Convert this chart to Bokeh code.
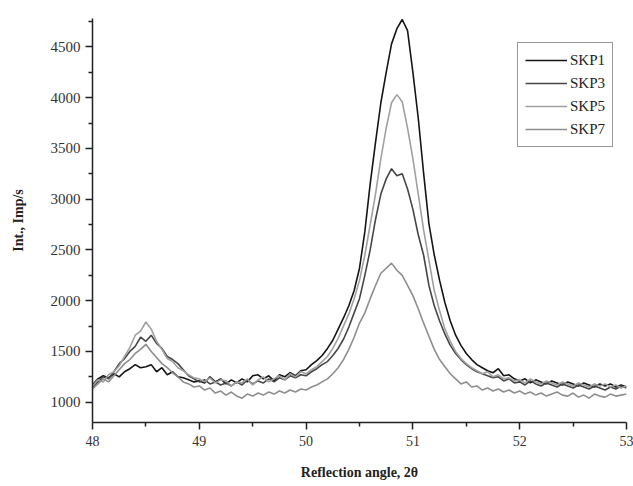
from bokeh.plotting import figure
from bokeh.models import FixedTicker, Legend, LegendItem
from bokeh.embed import file_html
from bokeh.resources import INLINE

angle = [round(48 + 0.05 * i, 2) for i in range(101)]

skp1 = [1170, 1230, 1260, 1240, 1280, 1250, 1300, 1330, 1370, 1340,
        1350, 1370, 1300, 1340, 1270, 1300, 1250, 1240, 1220, 1200,
        1210, 1190, 1250, 1200, 1230, 1180, 1220, 1190, 1230, 1200,
        1260, 1270, 1230, 1260, 1210, 1270, 1250, 1290, 1260, 1310,
        1320, 1370, 1410, 1460, 1530, 1610, 1720, 1830, 1950, 2100,
        2320, 2680, 3150, 3560, 3950, 4250, 4530, 4680, 4770, 4660,
        4250, 3800, 3260, 2760, 2450, 2200, 1980, 1800, 1660, 1560,
        1480, 1420, 1370, 1340, 1310, 1290, 1330, 1260, 1270, 1230,
        1210, 1230, 1190, 1220, 1200, 1180, 1210, 1190, 1170, 1200,
        1180, 1160, 1190, 1170, 1150, 1180, 1160, 1180, 1150, 1170,
        1150]

skp3 = [1150, 1200, 1250, 1230, 1300, 1380, 1430, 1500, 1550, 1640,
        1600, 1660, 1580, 1530, 1450, 1420, 1380, 1320, 1260, 1230,
        1200, 1220, 1180, 1200, 1170, 1190, 1160, 1200, 1170, 1220,
        1180, 1210, 1190, 1230, 1200, 1240, 1220, 1260, 1240, 1270,
        1260, 1300, 1330, 1370, 1400, 1460, 1530, 1620, 1740, 1880,
        2020, 2250, 2500, 2800, 3050, 3200, 3300, 3230, 3250, 3100,
        2900, 2650, 2450, 2150, 1950, 1800, 1670, 1560, 1480, 1420,
        1370, 1330, 1300, 1280, 1260, 1240, 1250, 1210, 1230, 1190,
        1200, 1170, 1210, 1180, 1160, 1190, 1170, 1150, 1180, 1160,
        1140, 1170, 1150, 1130, 1160, 1140, 1120, 1150, 1130, 1160,
        1140]

skp5 = [1160, 1220, 1200, 1270, 1300, 1360, 1450, 1540, 1660, 1700,
        1790, 1720, 1600, 1520, 1430, 1400, 1340, 1310, 1270, 1240,
        1230, 1200, 1240, 1190, 1220, 1210, 1160, 1200, 1190, 1230,
        1170, 1220, 1250, 1200, 1230, 1260, 1220, 1280, 1250, 1300,
        1280, 1320, 1350, 1400, 1450, 1530, 1630, 1750, 1870, 2020,
        2200, 2450, 2750, 3050, 3400, 3700, 3950, 4030, 3960, 3700,
        3400, 3050, 2700, 2400, 2100, 1900, 1720, 1600, 1500, 1430,
        1380, 1340, 1310, 1280, 1300, 1250, 1270, 1230, 1240, 1210,
        1220, 1190, 1230, 1200, 1180, 1210, 1190, 1170, 1200, 1180,
        1160, 1190, 1170, 1150, 1180, 1160, 1180, 1150, 1170, 1140,
        1160]

skp7 = [1130, 1180, 1230, 1200, 1260, 1320, 1380, 1420, 1480, 1520,
        1570, 1500, 1440, 1380, 1340, 1290, 1250, 1200, 1180, 1150,
        1160, 1120, 1140, 1090, 1110, 1070, 1100, 1060, 1040, 1080,
        1060, 1090, 1070, 1100, 1080, 1110, 1090, 1120, 1100, 1130,
        1120, 1150, 1170, 1200, 1230, 1280, 1340, 1420, 1520, 1640,
        1780, 1880, 2020, 2150, 2270, 2320, 2370, 2300, 2250, 2150,
        2050, 1920, 1780, 1650, 1520, 1420, 1350, 1280, 1230, 1180,
        1200, 1150, 1160, 1120, 1140, 1110, 1130, 1100, 1120, 1090,
        1110, 1080, 1100, 1070, 1090, 1060, 1080, 1100, 1070, 1060,
        1090, 1050, 1070, 1040, 1080, 1060, 1050, 1080, 1060, 1070,
        1080]

series_names = ["SKP1", "SKP3", "SKP5", "SKP7"]
x_ticks = [48, 49, 50, 51, 52, 53]
y_ticks = [1000, 1500, 2000, 2500, 3000, 3500, 4000, 4500]

colors = ["#151515", "#464646", "#a0a0a0", "#8e8e8e"]

p = figure(width=633, height=486, output_backend="svg", toolbar_location=None,
           x_range=(48, 53), y_range=(800, 4780),
           min_border_left=92, min_border_right=7, min_border_top=18,
           min_border_bottom=64)
p.outline_line_color = None
p.xgrid.visible = False
p.ygrid.visible = False
p.background_fill_color = "white"
p.border_fill_color = "white"

renderers = []
for ys, c in zip([skp1, skp3, skp5, skp7], colors):
    r = p.line(angle, ys, line_color=c, line_width=1.6)
    renderers.append(r)

font = "Liberation Serif"
for ax in (p.xaxis[0], p.yaxis[0]):
    ax.axis_line_color = "#222222"
    ax.axis_line_width = 1.5
    ax.major_tick_line_color = "#222222"
    ax.major_tick_line_width = 1.5
    ax.minor_tick_line_color = "#222222"
    ax.minor_tick_line_width = 1.5
    ax.major_tick_out = 7
    ax.major_tick_in = 0
    ax.minor_tick_out = 4
    ax.minor_tick_in = 0
    ax.major_label_text_font = font
    ax.major_label_text_color = "#333333"
    ax.axis_label_text_font = font
    ax.axis_label_text_font_style = "bold"
    ax.axis_label_text_color = "#222222"
    ax.axis_label_text_font_size = "14px"

p.xaxis.ticker = FixedTicker(ticks=x_ticks, minor_ticks=[48.5, 49.5, 50.5, 51.5, 52.5])
p.yaxis.ticker = FixedTicker(ticks=y_ticks,
                             minor_ticks=[1250, 1750, 2250, 2750, 3250, 3750, 4250, 4750])
p.xaxis.major_label_text_font_size = "14px"
p.yaxis.major_label_text_font_size = "15px"
p.xaxis.axis_label = "Reflection angle, 2θ"
p.yaxis.axis_label = "Int., Imp/s"
p.xaxis.major_label_standoff = 6
p.yaxis.major_label_standoff = 5
p.xaxis.axis_label_standoff = 16
p.yaxis.axis_label_standoff = 22

legend = Legend(items=[LegendItem(label=n, renderers=[r]) for n, r in zip(series_names, renderers)],
                location=(425, 275))
legend.label_text_font = font
legend.label_text_font_size = "15px"
legend.label_text_color = "#222222"
legend.border_line_color = "#333333"
legend.border_line_width = 1.2
legend.glyph_width = 42
legend.glyph_height = 20
legend.label_height = 20
legend.label_standoff = 3
legend.spacing = 3
legend.padding = 7
legend.margin = 0
legend.background_fill_alpha = 1.0
p.add_layout(legend, "center")

open("out.html", "w").write(file_html(p, INLINE))
